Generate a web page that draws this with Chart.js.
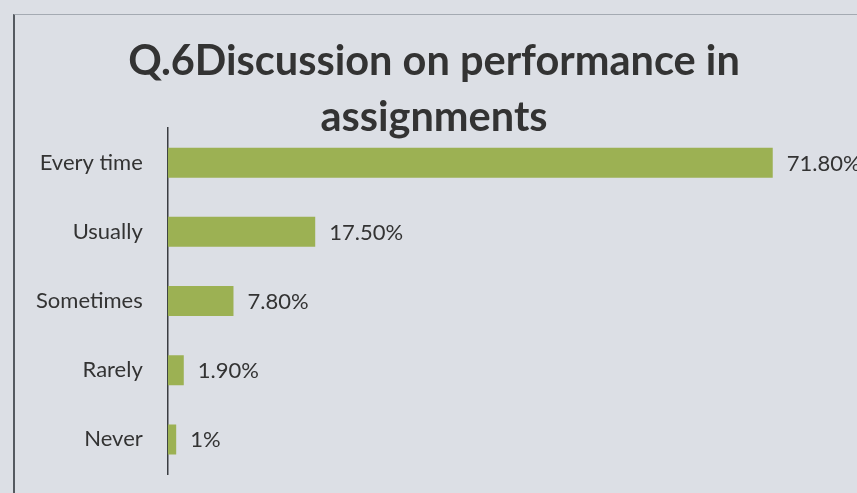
<!DOCTYPE html>
<html>
<head>
<meta charset="utf-8">
<script src="https://cdn.jsdelivr.net/npm/chart.js@4"></script>
<style>
  html, body { margin: 0; padding: 0; }
  body { width: 857px; height: 493px; background: #dcdfe5; position: relative; overflow: hidden; }
  #frame { position: absolute; left: 13px; top: 14px; width: 900px; height: 600px; border-left: 2px solid #555a60; border-top: 1px solid #a4aab2; }
  #wrap { position: absolute; left: 0; top: 0; width: 857px; height: 493px; }
</style>
</head>
<body>
<div id="frame"></div>
<div id="wrap"><canvas id="c" width="857" height="493"></canvas></div>
<script>
const categories = ["Every time", "Usually", "Sometimes", "Rarely", "Never"];
const values = [71.8, 17.5, 7.8, 1.9, 1];
const valueLabels = ["71.80%", "17.50%", "7.80%", "1.90%", "1%"];
const titleLines = ["Q.6Discussion on performance in", "assignments"];

const labelPlugin = {
  id: 'valueLabels',
  afterDatasetsDraw(chart) {
    const ctx = chart.ctx;
    const meta = chart.getDatasetMeta(0);
    ctx.save();
    ctx.font = '22px Lato, "Open Sans", sans-serif';
    ctx.fillStyle = '#333333';
    ctx.textAlign = 'left';
    ctx.textBaseline = 'middle';
    meta.data.forEach((bar, i) => {
      ctx.fillText(valueLabels[i], bar.x + 14, bar.y + 1);
    });
    ctx.restore();
  }
};

new Chart(document.getElementById('c'), {
  type: 'bar',
  data: {
    labels: categories,
    datasets: [{
      data: values,
      backgroundColor: '#9cb153',
      borderWidth: 0,
      barPercentage: 0.7,
      categoryPercentage: 0.62
    }]
  },
  options: {
    indexAxis: 'y',
    responsive: false,
    animation: false,
    layout: { padding: { left: 11, right: 0, top: 34, bottom: 19 } },
    plugins: {
      legend: { display: false },
      tooltip: { enabled: false },
      title: {
        display: true,
        text: titleLines,
        color: '#333333',
        font: { family: 'Lato, "Open Sans", sans-serif', size: 41.5, weight: 'bold', lineHeight: 1.35 },
        padding: { top: 0, bottom: -18 }
      }
    },
    scales: {
      x: { display: false, min: 0, max: 81.8 },
      y: {
        afterFit(scale) { scale.paddingTop = 0; scale.paddingBottom = 0; },
        grid: { display: false, drawTicks: false },
        border: { display: true, color: '#3a3d42', width: 1.5 },
        ticks: { color: '#333333', padding: 25, font: { family: 'Lato, "Open Sans", sans-serif', size: 22 } }
      }
    }
  },
  plugins: [labelPlugin]
});
</script>
</body>
</html>
